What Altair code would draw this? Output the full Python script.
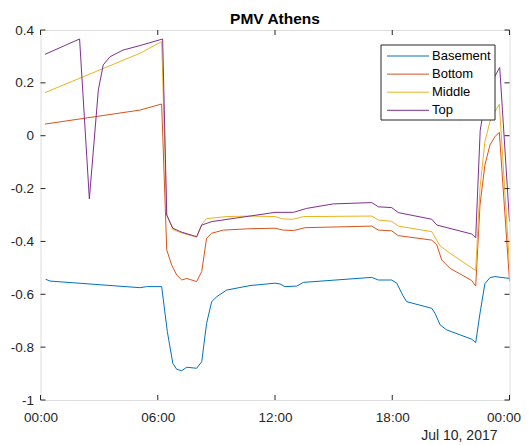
import altair as alt
import pandas as pd

title_text = "PMV Athens"
date_label = "Jul 10, 2017"
series_names = ["Basement", "Bottom", "Middle", "Top"]
series_colors = ["#0072BD", "#D95319", "#EDB120", "#7E2F8E"]

x_tick_hours = [0, 6, 12, 18, 24]
y_tick_values = [-1, -0.8, -0.6, -0.4, -0.2, 0, 0.2, 0.4]

basement_hours = [0.26, 0.49, 5.09, 5.43, 6.2, 6.49, 6.77, 6.97, 7.23, 7.48, 7.99, 8.25, 8.5, 8.76,
                  9.02, 9.53, 10.72, 12.0, 12.26, 12.51, 13.11, 13.45, 16.95, 17.29, 17.97, 18.23,
                  18.54, 18.74, 20.02, 20.19, 20.45, 20.79, 22.07, 22.27, 22.49, 22.74, 23.0, 23.25, 24.0]
basement_pmv = [-0.543, -0.55, -0.575, -0.571, -0.571, -0.741, -0.861, -0.884, -0.889, -0.876, -0.88,
                -0.855, -0.71, -0.628, -0.609, -0.584, -0.567, -0.558, -0.561, -0.571, -0.569, -0.555,
                -0.536, -0.546, -0.546, -0.558, -0.604, -0.628, -0.653, -0.672, -0.716, -0.735, -0.77,
                -0.783, -0.672, -0.56, -0.537, -0.533, -0.54]

bottom_hours = [0.23, 5.09, 6.2, 6.46, 6.71, 6.97, 7.23, 7.48, 7.99, 8.25, 8.5, 8.76, 9.36, 10.72,
                12.0, 12.42, 12.94, 13.54, 16.95, 17.29, 17.97, 18.31, 20.02, 20.28, 20.53, 20.96,
                22.07, 22.27, 22.49, 22.74, 23.0, 23.25, 23.48, 24.0]
bottom_pmv = [0.044, 0.097, 0.12, -0.432, -0.489, -0.527, -0.546, -0.54, -0.552, -0.514, -0.388,
              -0.369, -0.357, -0.352, -0.35, -0.357, -0.359, -0.348, -0.342, -0.357, -0.36, -0.378,
              -0.395, -0.413, -0.47, -0.502, -0.548, -0.569, -0.262, -0.111, -0.035, -0.004, 0.013,
              -0.55]

middle_hours = [0.23, 5.09, 6.2, 6.46, 6.77, 7.23, 7.99, 8.25, 8.5, 9.5, 10.72, 12.0, 12.42, 12.94,
                13.45, 16.95, 17.29, 17.97, 18.31, 20.02, 20.45, 20.96, 22.27, 22.49, 22.74, 23.0,
                23.25, 23.48, 24.0]
middle_pmv = [0.163, 0.312, 0.356, -0.30, -0.355, -0.368, -0.384, -0.335, -0.314, -0.306, -0.304,
              -0.306, -0.315, -0.316, -0.306, -0.304, -0.319, -0.324, -0.342, -0.363, -0.417, -0.445,
              -0.51, -0.199, -0.023, 0.053, 0.091, 0.119, -0.49]

top_hours = [0.23, 2.0, 2.5, 2.96, 3.21, 3.56, 4.22, 5.09, 6.25, 6.46, 6.77, 7.23, 7.99, 8.25, 8.76,
             10.72, 12.0, 12.94, 13.62, 14.98, 16.95, 17.29, 17.97, 18.31, 20.02, 20.28, 22.07,
             22.27, 22.5, 22.75, 23.0, 23.25, 23.5, 24.0]
top_pmv = [0.308, 0.366, -0.239, 0.173, 0.268, 0.299, 0.324, 0.341, 0.366, -0.30, -0.35, -0.365,
           -0.382, -0.338, -0.325, -0.304, -0.29, -0.29, -0.275, -0.258, -0.253, -0.269, -0.272,
           -0.291, -0.316, -0.338, -0.372, -0.386, 0.02, 0.13, 0.19, 0.225, 0.258, -0.325]

series_data = [
    (basement_hours, basement_pmv),
    (bottom_hours, bottom_pmv),
    (middle_hours, middle_pmv),
    (top_hours, top_pmv),
]

FONT = "Liberation Sans"
AX = "#262626"
W, H = 469, 370

xscale = alt.Scale(domain=[0, 24], nice=False, zero=False)
yscale = alt.Scale(domain=[-1, 0.4], nice=False, zero=False)

x_axis = alt.Axis(
    values=x_tick_hours,
    labelExpr="datum.value == 24 ? '00:00' : (datum.value < 10 ? '0' : '') + datum.value + ':00'",
    grid=False, ticks=False, domain=False, labelPadding=10, labelFontSize=13.5,
    labelFont=FONT, labelColor=AX, labelFlush=False,
    labelOffset={"condition": {"test": "datum.value == 24", "value": -6}, "value": 0},
    titleFont=FONT, titleFontSize=14, titleFontWeight="normal", titleColor=AX,
    titleAnchor="end", titleAlign="right", titleBaseline="alphabetic",
    titleX=456.5, titleY=39,
)
y_axis = alt.Axis(
    values=y_tick_values,
    labelExpr="datum.value == 0 ? '0' : (datum.value < 0 ? '-' : '') + format(abs(datum.value), '.1~f')",
    grid=False, ticks=False, domain=False, labelPadding=7, labelFontSize=13.5,
    labelFont=FONT, labelColor=AX, labelFlush=False,
)

layers = []
for name, color, (hrs, vals) in zip(series_names, series_colors, series_data):
    d = pd.DataFrame({"hour": hrs, "pmv": vals, "series": name})
    layers.append(
        alt.Chart(d).mark_line(color=color, strokeWidth=1, clip=True).encode(
            x=alt.X("hour:Q", scale=xscale, axis=x_axis, title=date_label),
            y=alt.Y("pmv:Q", scale=yscale, axis=y_axis, title=None),
            order="hour:Q",
        )
    )

xt = pd.DataFrame({"hour": x_tick_hours})
yt = pd.DataFrame({"pmv": y_tick_values})
tick_style = dict(color=AX, strokeWidth=1)
for y0, y1 in [(H, H - 5), (0, 5)]:
    layers.append(
        alt.Chart(xt).mark_rule(**tick_style).encode(
            x=alt.X("hour:Q", scale=xscale, axis=x_axis, title=date_label),
            y=alt.value(y0), y2=alt.value(y1),
        )
    )
for x0, x1 in [(0, 5), (W - 5, W)]:
    layers.append(
        alt.Chart(yt).mark_rule(**tick_style).encode(
            y=alt.Y("pmv:Q", scale=yscale, axis=y_axis, title=None),
            x=alt.value(x0), x2=alt.value(x1),
        )
    )

# legend (drawn manually, MATLAB style)
leg = pd.DataFrame({"series": series_names, "color": series_colors})
layers.append(
    alt.Chart(leg.head(1)).mark_rect(fill="white", stroke=AX, strokeWidth=1).encode(
        x=alt.value(340.5), x2=alt.value(454.5), y=alt.value(15), y2=alt.value(90)
    )
)
for i, (name, color) in enumerate(zip(series_names, series_colors)):
    row = leg.iloc[[i]]
    yy = 26 + 18.1 * i
    layers.append(
        alt.Chart(row).mark_rule(color=color, strokeWidth=1).encode(
            x=alt.value(346.5), x2=alt.value(388.5), y=alt.value(yy)
        )
    )
    layers.append(
        alt.Chart(row).mark_text(align="left", baseline="middle", font=FONT, fontSize=13,
                                 color="black").encode(
            x=alt.value(391.5), y=alt.value(yy), text="series:N"
        )
    )

# title as a text mark
title_df = pd.DataFrame({"t": [title_text]})
layers.append(
    alt.Chart(title_df).mark_text(align="center", baseline="alphabetic", font=FONT, fontSize=15.5,
                                  fontWeight="bold", color="black").encode(
        x=alt.value(W / 2), y=alt.value(-6), text="t:N"
    )
)

chart = alt.layer(*layers).properties(
    width=W, height=H,
    padding={"left": 32.5, "top": 22, "right": 11.5, "bottom": 42},
    autosize="none",
).configure_view(stroke=AX, strokeWidth=1).configure(background="white")

chart.save("out.html", embed_options={"renderer": "svg", "actions": False})
